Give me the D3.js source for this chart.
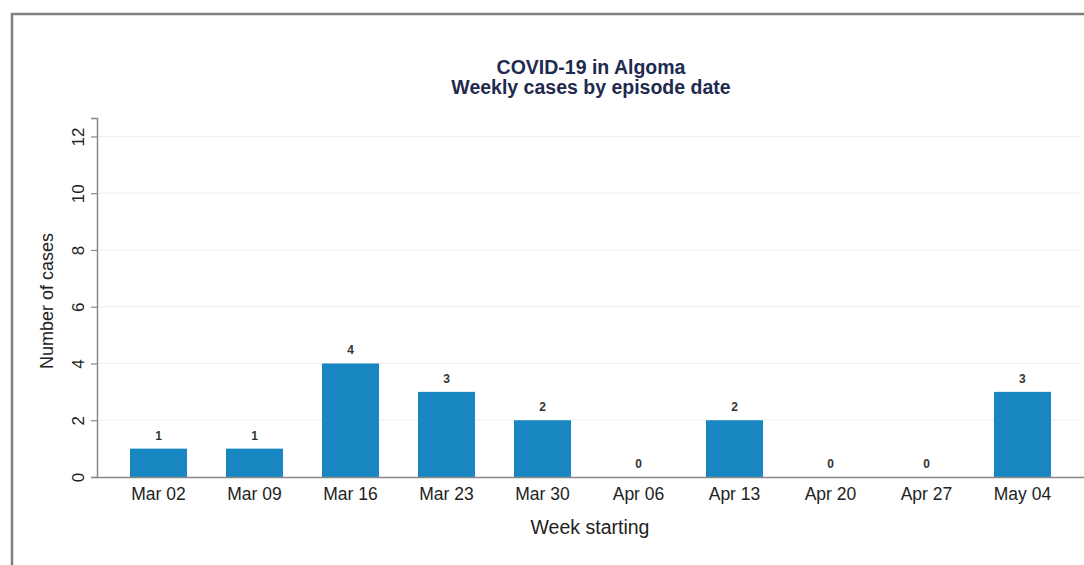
<!DOCTYPE html>
<html>
<head>
<meta charset="utf-8">
<script src="https://cdn.jsdelivr.net/npm/d3@7"></script>
<style>
  body { margin: 0; background: #fff; }
  svg text { font-family: "Liberation Sans", Arial, Helvetica, sans-serif; }
</style>
</head>
<body>
<div id="chart"></div>
<script>
var width = 1084, height = 565;

let weeks = ["Mar 02", "Mar 09", "Mar 16", "Mar 23", "Mar 30", "Apr 06", "Apr 13", "Apr 20", "Apr 27", "May 04"],
    cases = [1, 1, 4, 3, 2, 0, 2, 0, 0, 3],
    yTicks = [0, 2, 4, 6, 8, 10, 12];

var data = weeks.map(function(w, i) { return {week: w, n: cases[i]}; });

var svg = d3.select("#chart")
    .append("svg")
    .attr("width", width)
    .attr("height", height);

// outer frame
svg.append("rect")
    .attr("x", 12)
    .attr("y", 14)
    .attr("width", width + 20)
    .attr("height", height + 20)
    .attr("fill", "#fff")
    .attr("stroke", "#808080")
    .attr("stroke-width", 2.5);

var x = d3.scaleBand()
    .domain(weeks)
    .range([97, 1084])
    .paddingInner(0.406)
    .paddingOuter(0.344);

var y = d3.scaleLinear()
    .domain([0, 12.65])
    .range([477, 118]);

// grid lines
svg.append("g")
    .selectAll("line")
    .data(yTicks.slice(1))
    .enter().append("line")
        .attr("x1", 97)
        .attr("x2", 1080)
        .attr("y1", function(d) { return y(d); })
        .attr("y2", function(d) { return y(d); })
        .attr("stroke", "#eeeeee")
        .attr("stroke-width", 1);

// bars
svg.append("g")
    .selectAll("rect")
    .data(data)
    .enter().append("rect")
        .attr("x", function(d) { return x(d.week); })
        .attr("y", function(d) { return y(d.n); })
        .attr("width", x.bandwidth())
        .attr("height", function(d) { return y(0) - y(d.n); })
        .attr("fill", "#1886c0");

// value labels
svg.append("g")
    .selectAll("text")
    .data(data)
    .enter().append("text")
        .attr("x", function(d) { return x(d.week) + x.bandwidth() / 2; })
        .attr("y", function(d) { return y(d.n) - 9; })
        .attr("text-anchor", "middle")
        .attr("font-size", 12)
        .attr("font-weight", 700)
        .attr("fill", "#333")
        .text(function(d) { return d.n; });

// y axis
var yAxis = svg.append("g")
    .attr("transform", "translate(97,0)")
    .call(d3.axisLeft(y).tickValues(yTicks).tickSize(6));
yAxis.select(".domain").attr("stroke", "#888").attr("stroke-width", 1.5);
yAxis.selectAll(".tick line").attr("stroke", "#888").attr("stroke-width", 1.2);
yAxis.selectAll(".tick text")
    .attr("font-size", 17)
    .attr("fill", "#222")
    .attr("text-anchor", "middle")
    .attr("transform", "rotate(-90)")
    .attr("x", 0)
    .attr("y", -19)
    .attr("dy", "0.35em");

// x axis
var xAxis = svg.append("g")
    .attr("transform", "translate(0," + y(0) + ")")
    .call(d3.axisBottom(x).tickSize(0).tickPadding(11));
xAxis.select(".domain").attr("stroke", "#888").attr("stroke-width", 1.5);
xAxis.selectAll(".tick text")
    .attr("font-size", 17.5)
    .attr("fill", "#222");

// axis titles
svg.append("text")
    .attr("x", 590)
    .attr("y", 534)
    .attr("text-anchor", "middle")
    .attr("font-size", 19.5)
    .attr("fill", "#222")
    .text("Week starting");

svg.append("text")
    .attr("transform", "translate(53,301) rotate(-90)")
    .attr("text-anchor", "middle")
    .attr("font-size", 18)
    .attr("fill", "#222")
    .text("Number of cases");

// title
svg.append("text")
    .attr("x", 591)
    .attr("y", 74)
    .attr("text-anchor", "middle")
    .attr("font-size", 19.5)
    .attr("font-weight", 700)
    .attr("fill", "#1f2a4f")
    .text("COVID-19 in Algoma");

svg.append("text")
    .attr("x", 591)
    .attr("y", 94)
    .attr("text-anchor", "middle")
    .attr("font-size", 19.5)
    .attr("font-weight", 700)
    .attr("fill", "#1f2a4f")
    .text("Weekly cases by episode date");
</script>
</body>
</html>
